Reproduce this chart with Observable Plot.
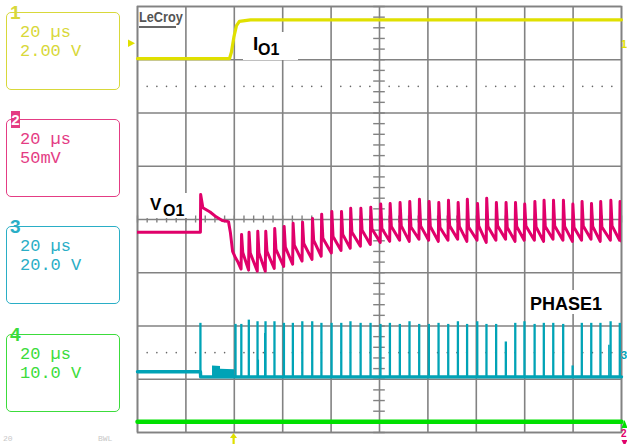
<!DOCTYPE html>
<html><head><meta charset="utf-8">
<script src="https://cdn.jsdelivr.net/npm/d3@7"></script>
<script src="https://cdn.jsdelivr.net/npm/@observablehq/plot@0.6"></script>
<style>
html,body{margin:0;padding:0;background:#fff;overflow:hidden;}
#wrap{position:relative;width:627px;height:444px;overflow:hidden;background:#fff;font-family:"Liberation Sans",Arial,sans-serif;}
#wrap > svg{position:absolute;left:0;top:0;}
.abs{position:absolute;white-space:pre;}
.chbox{position:absolute;left:6px;width:114px;height:78px;border:1.5px solid;border-radius:5px;box-sizing:border-box;}
.chnum{position:absolute;left:10px;font:bold 19px/19px "Liberation Sans",Arial,sans-serif;}
.chtxt{position:absolute;left:20px;font:17px/19px "Liberation Mono",monospace;white-space:pre;}
.ann{position:absolute;background:#fff;}
.b{position:absolute;font-weight:bold;color:#000;white-space:pre;}
</style></head><body><div id="wrap"></div>
<script>
// ---- data (time in µs, 20 µs/div; vertical in screen divisions, centre = 0) ----
const yelT = [0, 38.0, 38.8, 39.8, 40.9, 42.1, 46.7, 200];
const yelV = [3.02, 3.02, 3.14, 3.42, 3.64, 3.72, 3.75, 3.75];

const grnT = [0, 200];
const grnV = [-3.80, -3.80];

const cyaBaseT = [0, 26.0, 26.1, 200];
const cyaBaseV = [-2.86, -2.86, -2.955, -2.955];
const cyaBumpT = [31.0, 34.3, 34.3, 40.1];
const cyaBumpV = [-2.75, -2.76, -2.81, -2.82];
const cyaFloor = -2.955;

const pulseT = [26.0, 40.5, 42.9, 46.0, 49.6, 52.9, 56.6, 60.5, 64.2, 68.1, 72.2, 76.0, 80.2, 84.2, 88.0, 92.2, 96.3, 100.4, 104.3, 108.4, 112.4, 116.4, 120.4, 124.4, 128.4, 132.4, 136.2, 140.4, 144.2, 148.2, 152.2, 156.1, 159.9, 164.1, 167.9, 171.8, 175.9, 179.8, 183.6, 187.5, 191.3, 195.5, 199.3];
const pulseTop = [-1.95, -1.97, -1.97, -1.89, -1.92, -1.92, -1.92, -1.95, -1.95, -1.92, -1.92, -1.95, -1.95, -1.95, -1.92, -1.95, -1.95, -1.97, -1.95, -1.97, -1.92, -1.97, -1.97, -1.95, -1.97, -1.92, -1.97, -1.92, -1.97, -1.97, -2.30, -1.95, -1.92, -1.97, -1.95, -1.95, -1.97, -2.75, -1.95, -1.95, -1.95, -1.92, -1.95];
const partialT = [49.9, 52.6, 194.8];
const partialTop = [-2.64, -2.14, -2.36];

const magPreT = [0, 26.0, 26.1, 27.0, 30.0, 32.5, 35.0, 37.6, 38.4, 39.3, 40.5, 41.5, 42.8];
const magPreV = [-0.24, -0.24, 0.47, 0.22, 0.14, 0.05, -0.02, -0.04, -0.25, -0.60, -0.72, -0.80, -0.93];
const magPeak = [-0.28,-0.24,-0.22,-0.22,-0.17,-0.13,-0.07,-0.05,0.02,0.10,0.15,0.15,0.21,0.21,0.23,0.29,
  0.30,0.32,0.34,0.38,0.34,0.32,0.36,0.32,0.38,0.30,0.40,0.32,0.32,0.32,0.29,0.34,0.36,0.36,0.36,0.29,0.34,0.30,0.34,0.36,0.34];
const magMid = [-0.62,-0.63,-0.63,-0.60,-0.56,-0.52,-0.48,-0.45,-0.39,-0.35,-0.32,-0.28,-0.24,-0.20,-0.18,-0.17,
  -0.13,-0.12,-0.14,-0.12,-0.13,-0.15,-0.12,-0.13,-0.14,-0.12,-0.13,-0.12,-0.15,-0.13,-0.12,-0.14,-0.13,-0.12,-0.13,-0.15,-0.12,-0.13,-0.14,-0.12,-0.13];
const magTrough = [-0.95,-0.97,-0.97,-0.92,-0.88,-0.84,-0.78,-0.75,-0.69,-0.63,-0.58,-0.54,-0.50,-0.47,-0.43,-0.41,
  -0.39,-0.41,-0.37,-0.39,-0.41,-0.39,-0.37,-0.41,-0.39,-0.43,-0.39,-0.37,-0.41,-0.39,-0.39,-0.41,-0.37,-0.39,-0.41,-0.39,-0.37,-0.41,-0.39,-0.39,-0.41];

const chLabels = [
  {n:"1", l1:"20 µs", l2:"2.00 V"},
  {n:"2", l1:"20 µs", l2:"50mV"},
  {n:"3", l1:"20 µs", l2:"20.0 V"},
  {n:"4", l1:"20 µs", l2:"10.0 V"}
];

// ---- styling ----
const GRID = "#828282";
const YEL = "#e0e000", YELT = "#d8d83a";
const MAG = "#e0006a", MAGT = "#e43c84";
const CYA = "#00a3b6", CYAT = "#2aaec6";
const GRN = "#00e000", GRNT = "#3cdc3c";

// ---- build tables ----
const yel = yelT.map((t,i)=>({t, v:yelV[i]}));
const grn = grnT.map((t,i)=>({t, v:grnV[i]}));
const cyaBase = cyaBaseT.map((t,i)=>({t, v:cyaBaseV[i]}));
const cyaBump = cyaBumpT.map((t,i)=>({t, v:cyaBumpV[i]}));
const pulses = pulseT.map((t,i)=>({t, top:pulseTop[i]}));
const partials = partialT.map((t,i)=>({t, top:partialTop[i]}));
const mag = magPreT.map((t,i)=>({t, v:magPreV[i]}));
const cyc = pulseT.slice(2);
cyc.forEach((t,i)=>{
  const next = i+1 < cyc.length ? cyc[i+1] : 200.2;
  mag.push({t:t+0.1, v:magPeak[i]});
  mag.push({t:t+0.6, v:magMid[i]});
  mag.push({t:next-0.1, v:magTrough[i]});
});
const minorT = d3.range(4, 200, 4).filter(t => t % 20 !== 0);
const dots = [2.5, -2.5].flatMap(v => minorT.map(t => ({t, v})));

const chart = Plot.plot({
  width: 627, height: 444,
  marginLeft: 137, marginRight: 6, marginTop: 6, marginBottom: 12,
  x: {domain: [0, 200], axis: null},
  y: {domain: [-4, 4], axis: null},
  style: {background: "transparent"},
  marks: [
    Plot.gridX(d3.range(0, 201, 20), {stroke: GRID, strokeOpacity: 1, strokeWidth: 1.6}),
    Plot.gridY(d3.range(-4, 5, 1), {stroke: GRID, strokeOpacity: 1, strokeWidth: 1.6}),
    Plot.frame({stroke: GRID, strokeWidth: 1.6}),
    Plot.ruleX(d3.range(0, 201, 4), {y1: -0.066, y2: 0.066, stroke: GRID, strokeWidth: 1.4}),
    Plot.ruleY(d3.range(-4, 4.001, 0.2), {x1: 97.6, x2: 102.4, stroke: GRID, strokeWidth: 1.4}),
    Plot.dot(dots, {x: "t", y: "v", r: 0.8, fill: "#666", stroke: null}),
    Plot.line(grn, {x: "t", y: "v", stroke: GRN, strokeWidth: 4.5}),
    Plot.areaY(cyaBump, {x: "t", y1: cyaFloor, y2: "v", fill: CYA, curve: "linear"}),
    Plot.line(cyaBase, {x: "t", y: "v", stroke: CYA, strokeWidth: 3.4}),
    Plot.ruleX(pulses, {x: "t", y1: cyaFloor, y2: "top", stroke: CYA, strokeWidth: 2.3}),
    Plot.ruleX(partials, {x: "t", y1: cyaFloor, y2: "top", stroke: CYA, strokeWidth: 1.6}),
    Plot.line(mag, {x: "t", y: "v", stroke: MAG, strokeWidth: 3, clip: true}),
    Plot.line(yel, {x: "t", y: "v", stroke: YEL, strokeWidth: 3.2})
  ]
});

const wrap = document.getElementById("wrap");
wrap.appendChild(chart);

function add(html){ wrap.insertAdjacentHTML("beforeend", html); }

// channel info boxes
const boxTops = [12, 119, 226, 334];
const cols = [YELT, MAGT, CYAT, GRNT];
chLabels.forEach((c, i) => {
  const top = boxTops[i], col = cols[i];
  add(`<div class="chbox" style="top:${top}px;border-color:${col}"></div>`);
  if (i === 1) {
    add(`<div class="abs" style="left:11px;top:${top-8}px;width:9px;height:17px;background:${col};color:#fff;font:bold 15px/17px 'Liberation Sans',Arial,sans-serif;text-align:center">${c.n}</div>`);
  } else {
    add(`<div class="chnum" style="top:${top-9.5}px;color:${col}">${c.n}</div>`);
  }
  add(`<div class="chtxt" style="top:${top+10.5}px;color:${col}">${c.l1}\n${c.l2}</div>`);
});

// LeCroy logo
add(`<div class="abs" style="left:138.5px;top:10px;font:bold 14px/14px 'Liberation Sans',Arial,sans-serif;color:#555;transform:scaleX(0.91);transform-origin:left top">LeCroy</div>`);
add(`<div class="abs" style="left:139px;top:26px;width:37px;height:2px;background:#666"></div>`);

// annotations
add(`<div class="ann" style="left:243px;top:32px;width:55px;height:28px"></div>`);
add(`<div class="b" style="left:253px;top:33.5px;font-size:19px;line-height:19px">I</div>`);
add(`<div class="b" style="left:258px;top:41.5px;font-size:16px;line-height:16px">O1</div>`);
add(`<div class="ann" style="left:139px;top:193px;width:56px;height:25px"></div>`);
add(`<div class="b" style="left:150px;top:195.8px;font-size:17px;line-height:17px">V</div>`);
add(`<div class="b" style="left:163px;top:203px;font-size:16px;line-height:16px">O1</div>`);
add(`<div class="ann" style="left:526px;top:290px;width:86px;height:24px"></div>`);
add(`<div class="b" style="left:530px;top:294.7px;font-size:18px;line-height:18px">PHASE1</div>`);

// markers (offset / trigger indicators)
add(`<svg class="abs" style="left:0;top:0" width="627" height="444">
  <polygon points="128,39.5 135,43.2 128,47" fill="${YEL}"/>
  <polygon points="230,438 233.5,433 237,438" fill="${YEL}"/>
  <rect x="232.5" y="437" width="2.2" height="8" fill="${YEL}"/>
  <polygon points="621.5,428 624.5,420 627.5,428" fill="${GRN}"/>
  <polygon points="621.5,440 624.5,446 627.5,440" fill="${MAG}"/>
</svg>`);
add(`<div class="abs" style="left:621px;top:39px;font:bold 11px/11px 'Liberation Sans',Arial,sans-serif;color:${YEL}">1</div>`);
add(`<div class="abs" style="left:621px;top:350px;font:bold 11px/11px 'Liberation Sans',Arial,sans-serif;color:${CYA}">3</div>`);
add(`<div class="abs" style="left:621px;top:429px;font:bold 10px/10px 'Liberation Sans',Arial,sans-serif;color:${MAG}">2</div>`);

// faint status line at the bottom edge
add(`<div class="abs" style="left:3px;top:435px;font:8px/8px 'Liberation Mono',monospace;color:#c8c8c8">20</div>`);
add(`<div class="abs" style="left:98px;top:435px;font:8px/8px 'Liberation Mono',monospace;color:#c8c8c8">BWL</div>`);
</script></body></html>
